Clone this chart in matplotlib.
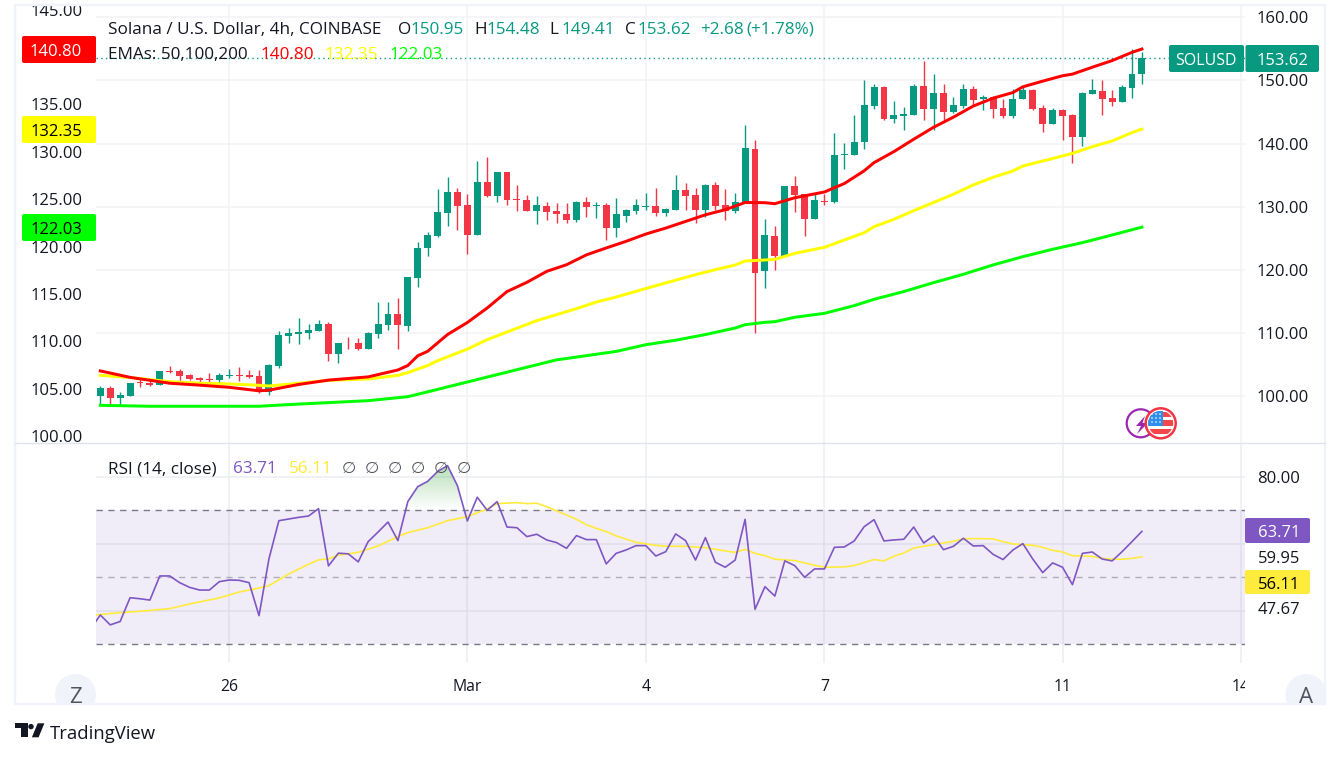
import numpy as np
import matplotlib
matplotlib.use("Agg")
import matplotlib.pyplot as plt
from matplotlib.patches import Rectangle, Circle, FancyBboxPatch, Polygon

W, H = 1341, 758
plt.rcParams['font.family'] = ['Open Sans', 'DejaVu Sans']

# ---------- data ----------
opens = [100.08,101.35,99.76,100.08,102.3,102.2,101.8,104.0,104.0,103.4,102.9,102.7,102.6,103.2,103.4,103.4,103.2,100.7,104.8,109.6,
 109.9,110.05,110.4,111.5,106.7,108.5,108.5,107.5,109.9,111.3,113.05,111.2,118.8,123.55,125.45,129.1,132.4,130.35,125.6,134.0,
 131.8,135.6,131.3,131.15,129.4,130.2,129.4,128.9,128.0,130.8,130.2,130.35,126.7,128.6,129.4,130.05,130.2,129.0,129.55,132.7,
 131.9,129.55,133.5,130.35,129.4,130.65,139.15,119.85,125.4,122.2,133.3,132.05,128.1,130.95,130.8,138.2,138.2,140.3,145.95,148.95,
 143.9,144.45,144.55,149.1,145.5,148.0,145.0,145.95,148.65,147.05,147.4,145.65,144.4,147.0,148.5,145.65,143.1,145.35,144.55,141.05,
 147.85,148.35,147.2,146.6,148.8,150.95]
highs = [101.66,101.66,100.7,102.14,102.77,102.45,104.1,104.8,104.35,103.55,103.1,103.7,103.7,104.35,104.7,104.2,104.2,105.15,110.4,110.8,
 112.4,111.5,112.1,111.8,108.5,109.4,109.25,110.2,115.0,115.0,115.6,118.95,124.5,126.1,132.9,134.8,133.05,132.1,137.3,137.95,
 135.6,135.6,133.5,131.9,131.8,130.8,130.65,130.65,131.0,131.6,130.8,130.65,131.45,129.7,131.3,132.25,133.05,129.85,135.1,133.8,
 133.05,133.65,134.0,132.9,132.25,142.96,140.6,128.1,126.97,133.3,134.9,132.05,132.05,132.05,141.7,140.1,144.5,150.1,149.45,149.1,
 146.75,145.8,149.45,153.1,151.05,149.45,147.4,149.45,149.1,147.7,147.55,147.05,148.65,148.95,148.65,146.1,145.65,145.5,144.7,148.2,
 150.25,150.1,148.5,149.3,155.0,154.48]
lows = [98.66,98.8,98.5,100.08,101.5,101.66,101.8,103.7,102.1,102.6,102.0,102.3,102.1,102.9,102.45,102.9,100.55,100.2,104.5,108.5,
 108.3,109.1,110.4,105.6,105.3,107.5,107.35,107.5,109.25,110.5,107.5,110.3,117.4,122.3,125.3,127.0,126.4,122.6,125.6,131.6,
 130.8,130.35,129.4,129.4,127.35,128.0,127.5,127.5,127.65,128.45,128.3,124.8,125.3,127.65,128.9,129.55,128.6,128.6,129.55,129.55,
 127.5,128.45,129.55,128.0,129.1,130.65,110.05,117.15,120.0,122.2,129.2,125.4,128.1,130.3,130.6,136.0,138.2,139.15,145.5,143.75,
 143.3,142.15,144.55,143.75,142.15,143.75,144.85,145.65,145.95,145.3,144.05,144.05,144.05,147.0,145.35,141.85,143.1,140.6,136.95,139.65,
 147.85,144.55,145.95,146.6,147.2,149.41]
closes = [101.35,99.76,100.24,102.14,102.1,101.8,104.0,103.9,103.2,102.8,102.6,102.55,103.4,103.35,103.2,103.1,100.7,105.0,109.7,110.05,
 110.2,110.5,111.5,106.7,108.5,108.4,107.5,110.05,111.5,113.05,111.3,118.95,123.55,125.6,129.25,132.4,130.2,125.6,134.0,131.8,
 135.6,131.15,131.15,129.4,130.35,129.25,128.8,128.0,130.8,130.05,130.35,126.7,128.8,129.55,130.35,130.2,129.0,129.7,132.7,131.75,
 129.55,133.5,130.2,129.4,130.8,139.3,119.55,125.55,122.2,133.3,131.9,128.1,131.1,130.8,138.2,138.35,140.3,146.1,148.95,143.9,
 144.55,144.7,149.1,145.5,148.0,145.0,146.1,148.65,146.9,147.4,145.5,144.4,147.05,148.5,145.5,143.1,145.35,144.4,141.05,148.0,
 148.5,147.05,146.6,148.95,151.05,153.62]

ema_red_bar = [0,3,7,10,13,16,17,20,23,27,30,31,32,33,35,37,39,41,43,45,47,49,51,53,55,57,59,61,63,65,67,68,70,73,75,77,78,80,82,84,86,88,90,92,93,95,97,98,100,102,104,105]
ema_red_val = [106.87,106.19,105.57,105.37,105.14,104.77,104.84,105.44,105.9,106.24,106.97,107.44,108.47,108.94,110.71,111.98,113.51,115.25,116.22,117.38,118.08,119.12,119.85,120.55,121.32,121.95,122.65,123.35,123.89,124.65,124.63,124.52,125.15,125.76,126.65,127.99,128.86,130.02,131.33,132.59,133.66,134.83,135.66,136.26,136.86,137.46,138.03,138.2,138.93,139.63,140.5,140.85]

ema_yel_bar = [0,3,7,10,13,16,17,20,23,27,30,31,32,33,34,37,39,40,42,44,46,48,50,52,54,56,58,60,62,64,65,67,68,70,73,75,77,78,80,82,84,86,88,90,92,93,95,97,98,100,102,104,105]
ema_yel_val = [106.4,106.17,105.74,105.57,105.5,105.35,105.28,105.57,105.87,106.02,106.4,106.69,107.07,107.44,107.95,109.17,110.17,110.57,111.38,112.18,112.81,113.44,114.14,114.67,115.27,115.87,116.45,117.03,117.56,118.05,118.47,118.58,118.65,119.28,119.92,120.69,121.46,122.1,122.87,123.79,124.65,125.52,126.5,127.31,127.98,128.5,129.03,129.56,129.84,130.54,131.14,132.03,132.4]

ema_grn_bar = [0,5,16,20,27,31,34,46,49,52,55,58,61,64,65,67,68,70,73,76,78,81,84,87,90,93,96,99,102,105]
ema_grn_val = [103.24,103.14,103.14,103.37,103.73,104.15,104.92,108.04,108.48,108.93,109.64,110.11,110.71,111.4,111.75,112.0,112.07,112.53,112.95,113.76,114.43,115.25,116.19,117.07,118.06,118.93,119.71,120.41,121.22,122.05]

rsi_val = [34.5,38.75,35.8,36.8,43.9,43.6,43.2,50.4,50.4,48.4,47.0,46.2,46.2,48.7,49.2,49.1,48.4,38.55,55.5,66.9,67.4,67.9,68.3,70.5,53.4,57.2,57.0,54.6,60.65,63.5,66.5,60.95,72.6,77.05,78.65,81.55,83.35,77.35,66.8,73.9,70.0,72.6,65.0,64.8,62.15,62.85,61.15,60.35,58.65,62.45,61.25,61.25,54.0,57.15,58.15,59.45,59.45,56.35,57.65,62.95,60.95,55.15,61.85,54.5,53.0,55.15,67.3,40.45,47.2,44.4,54.9,53.5,50.0,52.5,52.5,58.95,59.05,60.85,65.1,67.2,60.85,61.15,61.35,65.0,60.25,62.35,58.25,59.25,61.65,59.35,59.45,56.85,55.3,58.15,60.05,55.45,51.4,54.3,53.0,47.8,57.15,57.55,55.45,54.9,57.65,60.65,63.71]
rsi_bar = list(range(-1, 106))

ma_bar = [-1,2,4,7,9,12,14,16,17,19,21,22,23,24,26,28,30,31,33,35,37,39,40,42,43,44,45,47,48,49,50,51,52,54,56,57,59,61,63,64,65,66,67,68,70,72,73,75,76,78,79,80,81,82,84,86,87,88,89,90,91,92,94,95,96,97,98,100,101,102,103,104,105]
ma_val = [38.6,39.45,39.85,40.65,42.05,43.85,45.6,46.8,47.5,51.0,53.9,55.2,55.5,56.6,57.45,59.35,62.15,63.35,64.8,66.9,68.1,70.4,72.0,72.3,72.0,72.1,71.1,68.6,67.3,65.7,64.6,63.65,62.35,60.45,59.55,59.25,59.25,58.85,57.85,57.45,58.35,57.15,56.45,55.4,55.0,53.6,53.0,53.1,53.5,55.3,54.9,56.3,57.25,58.75,59.75,60.75,61.45,61.55,61.55,61.45,60.65,59.95,59.55,58.95,58.05,57.55,56.45,56.25,55.65,55.4,55.4,55.65,56.11]

price_ticks = [100,110,120,130,140,150,160]
ema_ticks = [100,105,110,115,120,125,130,135,145]
date_bars = [13,37,55,73,97,115]
date_labels = ['26','Mar','4','7','11','14']

GREEN, RED = '#089981', '#f23645'
GRID = '#f2f3f6'
TXT = '#131722'
FS = 12

# ---------- layout ----------
fig = plt.figure(figsize=(W/100, H/100), dpi=100, facecolor='white')
def rect_px(x0, y0, x1, y1):
    return [x0/W, 1-y1/H, (x1-x0)/W, (y1-y0)/H]

X0, DX = 100.3, 9.92
xlim = ((96-X0)/DX, (1245-X0)/DX)

ax = fig.add_axes(rect_px(96, 5, 1245, 443))
ax.set_xlim(*xlim)
ax.set_ylim(100-46.5/6.32, 100+391.5/6.32)
ax.set_facecolor('none')
for s in ax.spines.values():
    s.set_visible(False)
ax.set_xticks(date_bars)
ax.tick_params(axis='x', length=0, labelbottom=False)
ax.grid(True, color=GRID, lw=1.1)
ax.set_axisbelow(True)

bars = np.arange(len(opens))
o, h, l, c = map(np.array, (opens, highs, lows, closes))
cols = [GREEN if cc >= oo else RED for oo, cc in zip(o, c)]
ax.vlines(bars, l, h, colors=cols, lw=1.0, zorder=2)
ax.bar(bars, np.abs(c-o), bottom=np.minimum(o, c), width=0.7, color=cols, zorder=3, lw=0)
ax.axhline(closes[-1], color=GREEN, lw=1.0, ls=(0, (1, 2.4)), zorder=1.5)

ax2 = ax.twinx()
ax2.set_ylim(100-7/9.473, 100+431/9.473)
ax2.set_facecolor('none')
for s in ax2.spines.values():
    s.set_visible(False)
ax2.yaxis.tick_left()
ax2.set_yticks(ema_ticks, [f'{v:.2f}' for v in ema_ticks])
ax2.tick_params(axis='y', length=0, pad=9.5, labelsize=FS, labelcolor=TXT)
ax.yaxis.tick_right()
ax.set_yticks(price_ticks, [f'{v:.2f}' for v in price_ticks])
ax.tick_params(axis='y', length=0, pad=8.5, labelsize=FS, labelcolor=TXT)
ax2.plot(ema_grn_bar, ema_grn_val, color='#00ff00', lw=2.15, solid_joinstyle='round', zorder=4)
ax2.plot(ema_yel_bar, ema_yel_val, color='#ffff00', lw=2.15, solid_joinstyle='round', zorder=5)
ax2.plot(ema_red_bar, ema_red_val, color='#ff0000', lw=2.15, solid_joinstyle='round', zorder=6)
top_clip = Rectangle((0, 0), W, H-5, transform=None)
for t in ax2.get_yticklabels():
    t.set_clip_path(top_clip)
    t.set_clip_on(True)

# RSI pane
rx = fig.add_axes(rect_px(96, 444, 1245, 663))
rx.set_xlim(*xlim)
rx.set_ylim(70-(663-510.3)/3.35, 70-(444-510.3)/3.35)
rx.set_facecolor('none')
for s in rx.spines.values():
    s.set_visible(False)
rx.set_xticks(date_bars, date_labels)
rx.set_yticks([40, 60, 80])
rx.tick_params(axis='y', length=0, labelleft=False)
rx.tick_params(axis='x', length=0, pad=11.5, labelsize=FS-0.7, labelcolor=TXT)
rx.grid(True, color='#ecedf2', lw=1.1)
rx.set_axisbelow(True)
rx.axhspan(30, 70, color='#7e57c2', alpha=0.1, lw=0, zorder=1)
rx.axhline(70, color='#787b86', lw=1.0, ls=(0, (4.5, 4)), zorder=2)
rx.axhline(50, color='#787b86', lw=1.0, ls=(0, (4.5, 4)), alpha=0.55, zorder=2)
rx.axhline(30, color='#787b86', lw=1.0, ls=(0, (4.5, 4)), zorder=2)
rx.plot(ma_bar, ma_val, color='#ffeb3b', lw=1.2, zorder=3)
rx.plot(rsi_bar, rsi_val, color='#7e57c2', lw=1.2, zorder=4)
rb, rv = np.array(rsi_bar, float), np.array(rsi_val)
shade = rx.fill_between(rb, 70, rv, where=(rv >= 70) & (rb > 30) & (rb < 38), interpolate=True, color='none')
grad = np.zeros((64, 1, 4))
grad[..., 0], grad[..., 1], grad[..., 2] = 0.30, 0.69, 0.31
grad[..., 3] = np.linspace(0.42, 0.0, 64)[:, None]
im = rx.imshow(grad, extent=(xlim[0], xlim[1], 70, 84), origin='upper', aspect='auto', zorder=2.5)
im.set_clip_path(shade.get_paths()[0], transform=rx.transData)
rx.set_xlim(*xlim)
rx.set_ylim(70-(663-510.3)/3.35, 70-(444-510.3)/3.35)
box14 = Rectangle((0, 0), 1245, H, transform=None)
for t in rx.get_xticklabels():
    t.set_clip_path(box14)
    t.set_clip_on(True)

# ---------- overlay in pixel units: labels, badges, frame ----------
ov = fig.add_axes([0, 0, 1, 1], zorder=10)
ov.set_xlim(0, W)
ov.set_ylim(H, 0)
ov.axis('off')
ov.patch.set_alpha(0)

frame = Rectangle((15, 5), 1310.5, 699, fill=False, ec='#f0f3fa', lw=1.7)
ov.add_patch(frame)
ov.plot([15, 1325], [443, 443], color='#e0e3eb', lw=1.0)

def pill(x0, y0, x1, y1, col, r=2):
    ov.add_patch(FancyBboxPatch((x0+r, y0+r), x1-x0-2*r, y1-y0-2*r,
                                boxstyle=f'round,pad={r},rounding_size={r}', fc=col, ec='none'))

def txt(x, y, s, col=TXT, ha='left', size=FS, **kw):
    return ov.text(x, y, s, color=col, ha=ha, va='center_baseline', fontsize=size, **kw)

# left badges
pill(22, 36, 96, 63, '#ff0000'); txt(56, 50, '140.80', 'white', 'center')
pill(22, 116, 96, 143, '#ffff00'); txt(56, 130, '132.35', 'black', 'center')
pill(22, 214, 96, 241, '#00ff00'); txt(56, 228, '122.03', 'black', 'center')

# right badges
pill(1169, 45, 1244, 72, GREEN); txt(1206, 59, 'SOLUSD', 'white', 'center', FS-0.5)
pill(1245.5, 45, 1319, 72, GREEN); txt(1282, 59, '153.62', 'white', 'center')
pill(1245, 518, 1310, 543, '#7e57c2'); txt(1279, 531, '63.71', 'white', 'center')
pill(1245, 570, 1310, 594, '#ffeb3b'); txt(1279, 583, '56.11', 'black', 'center')
txt(1279, 477, '80.00', TXT, 'center')
txt(1279, 557, '59.95', TXT, 'center')
txt(1279, 608, '47.67', TXT, 'center')

# header
HS = 12.3
txt(108, 28, 'Solana / U.S. Dollar, 4h, COINBASE', size=HS)
for x, lab, val in [(398, 'O', '150.95'), (474, 'H', '154.48'), (549, 'L', '149.41'), (625, 'C', '153.62')]:
    txt(x, 28, lab, size=HS)
    txt(x+13, 28, val, GREEN, size=HS)
txt(700, 28, '+2.68', GREEN, size=HS)
txt(746, 28, '(+1.78%)', GREEN, size=HS)
txt(108, 53, 'EMAs: 50,100,200', size=HS)
txt(261, 53, '140.80', '#ff0000', size=HS)
txt(325, 53, '132.35', '#ffff00', size=HS)
txt(390, 53, '122.03', '#00ff00', size=HS)

# RSI header
txt(108, 467, 'RSI (14, close)', size=HS)
txt(233, 467, '63.71', '#7e57c2', size=HS)
txt(289, 467, '56.11', '#ffeb3b', size=HS)
for x in (349, 372, 395, 418, 441, 464):
    txt(x, 467, '\u2205', '#50535e', 'center', size=HS-0.5)

# corner buttons
bottom_clip = Rectangle((15, 5), 1310.5, 699, transform=ov.transData)
for cx, s in [(75.5, 'Z'), (1306, 'A')]:
    cc = Circle((cx, 694.5), 20.5, fc='#f0f3fa', ec='none', zorder=1)
    ov.add_patch(cc)
    cc.set_clip_path(bottom_clip)
    txt(cx, 695, s, '#50535e', 'center', size=16, zorder=2)

# purple and flag icons
ov.add_patch(Circle((1140.7, 423.3), 14, fc='white', ec='#9c27b0', lw=1.6, zorder=3))
ov.add_patch(Polygon([(1145, 416), (1136, 426), (1141, 426), (1137, 434), (1148, 423), (1142.5, 423)],
                     fc='#9c27b0', ec='none', zorder=3))
ring = Circle((1160.7, 423.3), 15, fc='white', ec='#f23645', lw=1.8, zorder=4)
ov.add_patch(ring)
inner = Circle((1160.7, 423.3), 12.5, transform=ov.transData)
for yy, hh in [(412, 4.5), (420, 5.5), (428.5, 5.5)]:
    r_ = Rectangle((1147, yy), 28, hh, fc='#f4474b', ec='none', zorder=5)
    ov.add_patch(r_); r_.set_clip_path(inner)
r_ = Rectangle((1147, 411), 16, 15, fc='#2f8fed', ec='none', zorder=6)
ov.add_patch(r_); r_.set_clip_path(inner)
for dy in (414, 418, 422):
    for dx in (1152, 1156, 1160):
        ov.add_patch(Circle((dx, dy), 0.8, fc='white', ec='none', zorder=7))

# TradingView logo
ov.add_patch(Polygon([(15, 723.3), (28.3, 723.3), (28.3, 737.3), (20.7, 737.3), (20.7, 728.4), (15, 728.4)], fc=TXT, ec='none'))
ov.add_patch(Circle((31, 726.6), 2.7, fc=TXT, ec='none'))
ov.add_patch(Polygon([(37.7, 723.3), (44.4, 723.3), (38.6, 737.3), (31.9, 737.3)], fc=TXT, ec='none'))
ov.text(50, 732, 'TradingView', color=TXT, fontsize=13.3, ha='left', va='center_baseline', family=['Open Sans', 'DejaVu Sans'])

fig.savefig('out.png', dpi=100, facecolor='white')
